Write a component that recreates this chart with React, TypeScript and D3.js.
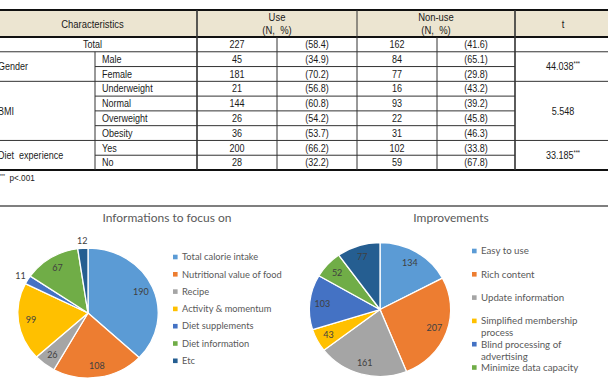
import * as d3 from 'd3';

// ---- table data ----
const groupNames = ['Total', 'Gender', 'BMI', 'Diet  experience'];
const rowGroup = [0, 1, 1, 2, 2, 2, 2, 3, 3];
const subLabels = ['', 'Male', 'Female', 'Underweight', 'Normal', 'Overweight', 'Obesity', 'Yes', 'No'];
const useN = [227, 45, 181, 21, 144, 26, 36, 200, 28];
const usePct = ['58.4', '34.9', '70.2', '56.8', '60.8', '54.2', '53.7', '66.2', '32.2'];
const nonUseN = [162, 84, 77, 16, 93, 22, 31, 102, 59];
const nonUsePct = ['41.6', '65.1', '29.8', '43.2', '39.2', '45.8', '46.3', '33.8', '67.8'];
const tValues = ['', '44.038', '5.548', '33.185'];
const tStars = ['', '***', '', '***'];

// ---- pie data ----
const focusLabels = ['Total calorie intake', 'Nutritional value of food', 'Recipe', 'Activity & momentum', 'Diet supplements', 'Diet information', 'Etc'];
const focusValues = [190, 108, 26, 99, 11, 67, 12];
const improveLabels = ['Easy to use', 'Rich content', 'Update information', 'Simplified membership process', 'Blind processing of advertising', 'Minimize data capacity', 'Etc'];
const improveValues = [134, 207, 161, 43, 103, 52, 77];
const pieColors = ['#5B9BD5', '#ED7D31', '#A5A5A5', '#FFC000', '#4472C4', '#70AD47', '#255E91'];

const W = 608;
const H = 388;
const tableFont = '"Liberation Sans", Arial, sans-serif';
const chartFont = 'Lato, Carlito, "Open Sans", sans-serif';
const kx = 0.86; // the table's font is a narrow one: squeeze it horizontally

// column edges of the table (layout)
const colX = [-12, 95, 197, 277, 357, 437, 515, 611];
const headTop = 10;
const headBottom = 37;
const tableBottom = 170;

function wrap(label: string, maxChars: number) {
  const words = label.split(' ');
  const lines: string[] = [];
  let cur = '';
  words.forEach(w => {
    const next = cur ? cur + ' ' + w : w;
    if (next.length > maxChars && cur) {
      lines.push(cur);
      cur = w;
    } else cur = next;
  });
  if (cur) lines.push(cur);
  return lines;
}

function Table() {
  const y = d3.scaleBand<number>().domain(d3.range(subLabels.length)).range([headBottom, tableBottom]);
  const bw = y.bandwidth();
  const X = (i: number) => colX[i] / kx;
  const mid = (a: number, b: number) => (X(a) + X(b)) / 2;
  const groups = d3.groups(d3.range(subLabels.length), i => rowGroup[i]);
  const lineColor = '#333';
  const ln = { vectorEffect: 'non-scaling-stroke' as const };

  return (
    <g transform={`scale(${kx},1)`} fontFamily={tableFont} fontSize={10.5} fill="#1a1a1a">
      <rect x={X(0)} y={headTop} width={X(7) - X(0)} height={headBottom - headTop} fill="#ECE5D1" />
      <text x={mid(0, 2)} y={24} dy="0.35em" textAnchor="middle" fontSize={11}>Characteristics</text>
      <text x={mid(2, 4)} y={17} dy="0.35em" textAnchor="middle" fontSize={11}>Use</text>
      <text x={mid(2, 4)} y={30} dy="0.35em" textAnchor="middle" fontSize={11} style={{ whiteSpace: 'pre' }}>(N,  %)</text>
      <text x={mid(4, 6)} y={17} dy="0.35em" textAnchor="middle" fontSize={11}>Non-use</text>
      <text x={mid(4, 6)} y={30} dy="0.35em" textAnchor="middle" fontSize={11} style={{ whiteSpace: 'pre' }}>(N,  %)</text>
      <text x={mid(6, 7)} y={24} dy="0.35em" textAnchor="middle" fontSize={11}>t</text>

      {subLabels.map((s, i) => {
        const cy = (y(i) as number) + bw / 2;
        return (
          <g key={i}>
            {s && <text x={X(1) + 7 / kx} y={cy} dy="0.35em">{s}</text>}
            <text x={mid(2, 3)} y={cy} dy="0.35em" textAnchor="middle">{useN[i]}</text>
            <text x={mid(3, 4)} y={cy} dy="0.35em" textAnchor="middle">({usePct[i]})</text>
            <text x={mid(4, 5)} y={cy} dy="0.35em" textAnchor="middle">{nonUseN[i]}</text>
            <text x={mid(5, 6)} y={cy} dy="0.35em" textAnchor="middle">({nonUsePct[i]})</text>
          </g>
        );
      })}

      {groups.map(([g, rows]) => {
        const top = y(rows[0]) as number;
        const bottom = (y(rows[rows.length - 1]) as number) + bw;
        const cy = (top + bottom) / 2;
        return (
          <g key={g}>
            {g === 0
              ? <text x={mid(0, 2)} y={cy} dy="0.35em" textAnchor="middle">{groupNames[g]}</text>
              : <text x={X(0) + 10 / kx} y={cy} dy="0.35em" style={{ whiteSpace: 'pre' }}>{groupNames[g]}</text>}
            {tValues[g] && (
              <text x={mid(6, 7)} y={cy} dy="0.35em" textAnchor="middle">
                {tValues[g]}
                <tspan fontSize={6.5} dy={-4}>{tStars[g]}</tspan>
              </text>
            )}
          </g>
        );
      })}

      {/* horizontal rules */}
      <line x1={X(0)} x2={X(7)} y1={headTop} y2={headTop} stroke="#111" strokeWidth={2} {...ln} />
      <line x1={X(0)} x2={X(7)} y1={headBottom} y2={headBottom} stroke="#111" strokeWidth={2} {...ln} />
      {subLabels.map((_, i) => {
        if (i === subLabels.length - 1) return null;
        const yy = (y(i) as number) + bw;
        const full = rowGroup[i] !== rowGroup[i + 1];
        return (
          <line key={i} x1={full ? X(0) : X(1)} x2={full ? X(7) : X(6)} y1={yy} y2={yy}
            stroke={lineColor} strokeWidth={1} {...ln} />
        );
      })}
      <line x1={X(0)} x2={X(7)} y1={tableBottom} y2={tableBottom} stroke="#111" strokeWidth={2} {...ln} />

      {/* vertical rules */}
      <line x1={X(1)} x2={X(1)} y1={(y(1) as number)} y2={tableBottom} stroke={lineColor} strokeWidth={1} {...ln} />
      <line x1={X(2)} x2={X(2)} y1={headTop} y2={tableBottom} stroke={lineColor} strokeWidth={1.6} {...ln} />
      <line x1={X(3)} x2={X(3)} y1={headBottom} y2={tableBottom} stroke={lineColor} strokeWidth={1} {...ln} />
      <line x1={X(4)} x2={X(4)} y1={headTop} y2={tableBottom} stroke={lineColor} strokeWidth={1} {...ln} />
      <line x1={X(5)} x2={X(5)} y1={headBottom} y2={tableBottom} stroke={lineColor} strokeWidth={1} {...ln} />
      <line x1={X(6)} x2={X(6)} y1={headTop} y2={tableBottom} stroke={lineColor} strokeWidth={1.6} {...ln} />

      <text x={-1 / kx} y={181} dy="0.35em" fontSize={9.5} style={{ whiteSpace: 'pre' }}>
        <tspan fontSize={6} dy={-3}>***</tspan>
        <tspan dy={3}>{'  p<.001'}</tspan>
      </text>
    </g>
  );
}

interface PieProps {
  title: string;
  labels: string[];
  values: number[];
  cx: number;
  cy: number;
  r: number;
  sx: number;
  titleX: number;
  legendX: number;
  legendY: number;
  legendStep: number;
  legendSize: number;
  wrapChars: number;
}

function PieChart(p: PieProps) {
  const data = p.values.map((v, i) => ({ v, i }));
  const pie = d3.pie<{ v: number; i: number }>().sort(null).value(d => d.v);
  const arcs = pie(data);
  const total = d3.sum(p.values);
  const arc = d3.arc<d3.PieArcDatum<{ v: number; i: number }>>().innerRadius(0).outerRadius(p.r);
  const labelArc = d3.arc<d3.PieArcDatum<{ v: number; i: number }>>().innerRadius(p.r * 0.82).outerRadius(p.r * 0.82);
  const outerArc = d3.arc<d3.PieArcDatum<{ v: number; i: number }>>().innerRadius(p.r * 1.12).outerRadius(p.r * 1.12);
  const color = d3.scaleOrdinal<number, string>().domain(d3.range(p.values.length)).range(pieColors);

  return (
    <g fontFamily={chartFont}>
      <text x={p.titleX} y={218} dy="0.35em" textAnchor="middle" fontSize={12} fill="#595959">{p.title}</text>
      <g transform={`translate(${p.cx},${p.cy}) scale(${p.sx},1)`}>
        {arcs.map(a => (
          <path key={a.data.i} d={arc(a) || ''} fill={color(a.data.i)} stroke="#fff" strokeWidth={1.3}
            vectorEffect="non-scaling-stroke" />
        ))}
      </g>
      {arcs.map(a => {
        const small = a.data.v / total < 0.03;
        const [lx, ly] = (small ? outerArc : labelArc).centroid(a);
        return (
          <text key={a.data.i} x={p.cx + lx * p.sx} y={p.cy + ly} dy="0.35em" textAnchor="middle"
            fontSize={9} fill="#404040">{a.data.v}</text>
        );
      })}
      {p.labels.map((l, i) => {
        const ly = p.legendY + i * p.legendStep;
        // the legend box is cut at the bottom of the picture
        if (ly > H - 4) return null;
        const lines = wrap(l, p.wrapChars);
        return (
          <g key={l + i}>
            <rect x={p.legendX - 9} y={ly - 2.3} width={4.6} height={4.6} fill={color(i)} />
            <text x={p.legendX} y={ly} fontSize={p.legendSize} fill="#595959">
              {lines.map((t, j) => (
                <tspan key={j} x={p.legendX} dy={j === 0 ? '0.35em' : 12}>{t}</tspan>
              ))}
            </text>
          </g>
        );
      })}
    </g>
  );
}

export default function App() {
  return (
    <svg width={W} height={H} style={{ position: 'absolute', left: 0, top: 0, background: '#fff' }}>
      <rect width={W} height={H} fill="#fff" />
      <Table />
      <line x1={0} x2={W} y1={206} y2={206} stroke="#555" strokeWidth={1.4} />
      <PieChart title="Informations to focus on" labels={focusLabels} values={focusValues}
        cx={88} cy={313} r={65} sx={1.08} titleX={167}
        legendX={182} legendY={257} legendStep={17.3} legendSize={9.3} wrapChars={40} />
      <PieChart title="Improvements" labels={improveLabels} values={improveValues}
        cx={380} cy={309.5} r={67} sx={1.055} titleX={451}
        legendX={481} legendY={251} legendStep={23.3} legendSize={9.7} wrapChars={22} />
    </svg>
  );
}
